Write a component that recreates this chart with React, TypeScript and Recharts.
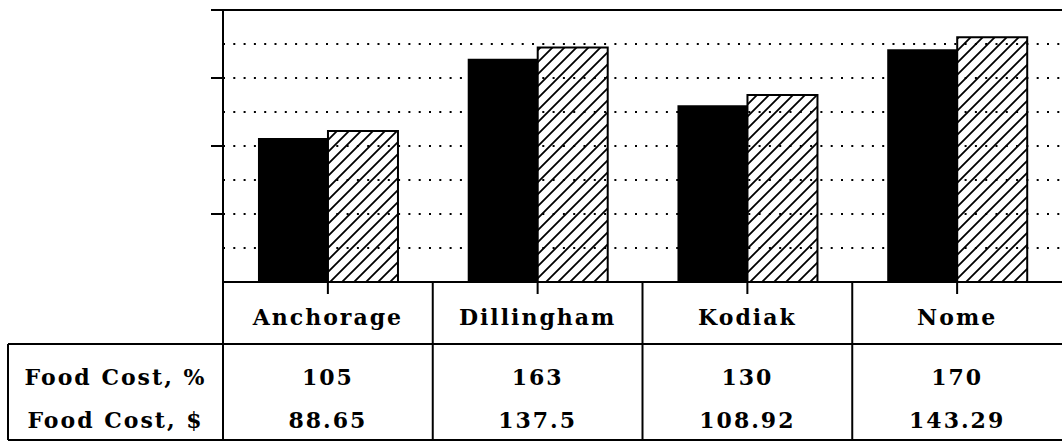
import React from 'react';
import { BarChart, Bar, XAxis, YAxis, ReferenceLine } from 'recharts';

const categories = ['Anchorage', 'Dillingham', 'Kodiak', 'Nome'];
const foodCostPct = [105, 163, 130, 170];
const foodCostUsd = [88.65, 137.5, 108.92, 143.29];
const rowLabels = ['Food Cost, %', 'Food Cost, $'];
const gridTicks = [1, 2, 3, 4, 5, 6, 7];
const majorTicks = [2, 4, 6, 8];

const data = categories.map((name, i) => ({ name, pct: foodCostPct[i], usd: foodCostUsd[i] }));

const WIDTH = 1062;
const HEIGHT = 442;
const MARGIN_LEFT = 203;
const Y_AXIS_W = 20;
const X_AXIS_H = 160;
const PLOT_LEFT = MARGIN_LEFT + Y_AXIS_W;
const PLOT_BOTTOM = HEIGHT - X_AXIS_H;
const BAND = (WIDTH - PLOT_LEFT) / categories.length;
const TABLE_LEFT = 8;
const ROW_LINE = 344;
const TABLE_BOTTOM = 440;
const FONT = "'DejaVu Serif', serif";

const textStyle = { fontFamily: FONT, fontWeight: 700, fontSize: 22, fill: '#000', letterSpacing: 2 };

const TableTick = (props: any) => {
  const { x, payload, index } = props;
  const i = index ?? categories.indexOf(payload.value);
  const last = i === categories.length - 1;
  return (
    <g>
      {i === 0 && (
        <g>
          <line x1={x - BAND / 2} x2={x - BAND / 2} y1={PLOT_BOTTOM} y2={TABLE_BOTTOM} stroke="#000" strokeWidth={2} />
          <line x1={TABLE_LEFT} x2={WIDTH} y1={ROW_LINE} y2={ROW_LINE} stroke="#000" strokeWidth={2} />
          <line x1={TABLE_LEFT} x2={WIDTH} y1={TABLE_BOTTOM} y2={TABLE_BOTTOM} stroke="#000" strokeWidth={2} />
          <line x1={TABLE_LEFT} x2={TABLE_LEFT} y1={ROW_LINE} y2={TABLE_BOTTOM} stroke="#000" strokeWidth={2} />
          <text x={(TABLE_LEFT + x - BAND / 2) / 2} y={385} textAnchor="middle" style={textStyle}>{rowLabels[0]}</text>
          <text x={(TABLE_LEFT + x - BAND / 2) / 2} y={428} textAnchor="middle" style={textStyle}>{rowLabels[1]}</text>
        </g>
      )}
      {!last && (
        <line x1={x + BAND / 2} x2={x + BAND / 2} y1={PLOT_BOTTOM} y2={TABLE_BOTTOM} stroke="#000" strokeWidth={2} />
      )}
      <text x={x} y={325} textAnchor="middle" style={textStyle}>{payload.value}</text>
      <text x={x} y={385} textAnchor="middle" style={textStyle}>{String(foodCostPct[i])}</text>
      <text x={x} y={428} textAnchor="middle" style={textStyle}>{String(foodCostUsd[i])}</text>
    </g>
  );
};

export default function App() {
  return (
    <div style={{ position: 'absolute', left: 0, top: 0, width: WIDTH, height: HEIGHT, background: '#fff' }}>
      <BarChart
        width={WIDTH}
        height={HEIGHT}
        data={data}
        margin={{ top: 10, right: 0, left: MARGIN_LEFT, bottom: 0 }}
        barCategoryGap="16.67%"
        barGap={0}
      >
        <defs>
          <pattern id="hatch" patternUnits="userSpaceOnUse" width={12} height={12}>
            <path d="M-1,1 l2,-2 M0,12 l12,-12 M11,13 l2,-2" stroke="#000" strokeWidth={1.8} />
          </pattern>
        </defs>
        <YAxis
          yAxisId="frame"
          type="number"
          domain={[0, 8]}
          allowDataOverflow
          ticks={majorTicks}
          width={Y_AXIS_W}
          tickFormatter={() => ''}
          tickSize={12}
          tickLine={{ stroke: '#000', strokeWidth: 2 }}
          axisLine={{ stroke: '#000', strokeWidth: 2 }}
        />
        <YAxis yAxisId="usd" hide domain={[0, 167.5]} allowDataOverflow />
        <YAxis yAxisId="pct" hide domain={[0, 189]} allowDataOverflow />
        <XAxis
          dataKey="name"
          height={X_AXIS_H}
          interval={0}
          tickSize={12}
          tickLine={{ stroke: '#000', strokeWidth: 2 }}
          axisLine={{ stroke: '#000', strokeWidth: 2 }}
          tick={<TableTick />}
        />
        {gridTicks.map((v) => (
          <ReferenceLine
            key={v}
            yAxisId="frame"
            y={v}
            stroke="#000"
            strokeWidth={2}
            strokeDasharray="2 8.3"
          />
        ))}
        <ReferenceLine yAxisId="frame" y={8} stroke="#000" strokeWidth={2} />
        <Bar yAxisId="usd" dataKey="usd" fill="#000" isAnimationActive={false} />
        <Bar yAxisId="pct" dataKey="pct" fill="url(#hatch)" stroke="#000" strokeWidth={2} isAnimationActive={false} />
      </BarChart>
    </div>
  );
}
